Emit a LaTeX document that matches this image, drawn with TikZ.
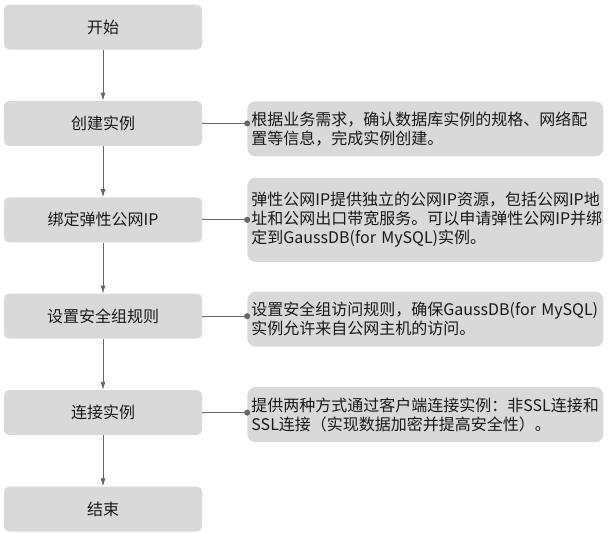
\documentclass[tikz,border=0pt]{standalone}
\usepackage{fontspec}
\setmainfont{Noto Sans CJK SC}
\usepackage{xcolor}
\usepackage{tikz}
\usetikzlibrary{arrows.meta,positioning,shapes}

\definecolor{boxgray}{RGB}{217,217,217}
\definecolor{linegray}{RGB}{102,102,102}
\tikzset{
  stepbox/.style={fill=boxgray,rounded corners=5pt,minimum width=198pt,minimum height=45pt,inner sep=0pt,text=black!90,font=\fontsize{16pt}{19pt}\selectfont},
  notebox/.style={fill=boxgray,rounded corners=8pt,text width=348pt,inner xsep=4pt,inner ysep=8pt,minimum height=55pt,align=left,text=black!90,font=\fontsize{16pt}{19pt}\selectfont},
  flow/.style={-{Latex[length=8pt,width=5pt]},linegray,line width=0.75pt},
  link/.style={-{Circle[length=6pt]},shorten >=-3pt,linegray,line width=0.75pt}
}

\begin{document}
\begin{tikzpicture}[x=1pt,y=1pt]
\useasboundingbox (0,0) rectangle (608,-533);

\node[stepbox] (s1) at (103,-27){开始};
\node[stepbox,below=51pt of s1] (s2){创建实例};
\node[stepbox,below=51pt of s2] (s3){绑定弹性公网IP};
\node[stepbox,below=51pt of s3] (s4){设置安全组规则};
\node[stepbox,below=51pt of s4] (s5){连接实例};
\node[stepbox,below=51pt of s5] (s6){结束};

\node[notebox,right=45pt of s2,yshift=-5.5pt] (d1){根据业务需求，确认数据库实例的规格、网络配\\置等信息，完成实例创建。};
\node[notebox,right=45pt of s3,minimum height=84pt] (d2){弹性公网IP提供独立的公网IP资源，包括公网IP地\\址和公网出口带宽服务。可以申请弹性公网IP并绑\\定到GaussDB(for MySQL)实例。};
\node[notebox,right=45pt of s4,yshift=-3pt] (d3){设置安全组访问规则，确保GaussDB(for MySQL)\\实例允许来自公网主机的访问。};
\node[notebox,right=45pt of s5,yshift=-2pt] (d4){提供两种方式通过客户端连接实例：非SSL连接和\\SSL连接（实现数据加密并提高安全性）。};

\draw[flow] (s1)--(s2);
\draw[flow] (s2)--(s3);
\draw[flow] (s3)--(s4);
\draw[flow] (s4)--(s5);
\draw[flow] (s5)--(s6);

\draw[link] (s2.east)--(s2.east -| d1.west);
\draw[link] (s3.east)--(s3.east -| d2.west);
\draw[link] (s4.east)--(s4.east -| d3.west);
\draw[link] (s5.east)--(s5.east -| d4.west);
\end{tikzpicture}
\end{document}
